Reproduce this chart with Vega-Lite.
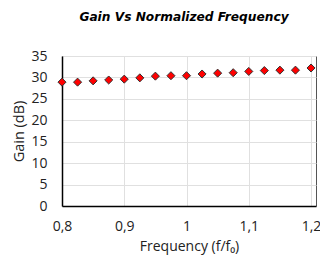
{
  "$schema": "https://vega.github.io/schema/vega-lite/v6.json",
  "width": 254,
  "height": 150,
  "autosize": {"type": "none"},
  "padding": {"left": 62, "top": 56, "right": 4, "bottom": 49},
  "background": "white",
  "title": {
    "text": "Gain Vs Normalized Frequency",
    "font": "DejaVu Sans",
    "fontSize": 12.2,
    "fontWeight": "bold",
    "fontStyle": "italic",
    "color": "#000000",
    "anchor": "middle",
    "offset": 26,
    "dx": -5
  },
  "data": {
    "values": [
      {"freq": 0.8, "gain": 28.9},
      {"freq": 0.825, "gain": 28.9},
      {"freq": 0.85, "gain": 29.2},
      {"freq": 0.875, "gain": 29.4},
      {"freq": 0.9, "gain": 29.6},
      {"freq": 0.925, "gain": 29.9},
      {"freq": 0.95, "gain": 30.3},
      {"freq": 0.975, "gain": 30.4},
      {"freq": 1.0, "gain": 30.4},
      {"freq": 1.025, "gain": 30.8},
      {"freq": 1.05, "gain": 31.0},
      {"freq": 1.075, "gain": 31.1},
      {"freq": 1.1, "gain": 31.4},
      {"freq": 1.125, "gain": 31.6},
      {"freq": 1.15, "gain": 31.7},
      {"freq": 1.175, "gain": 31.7},
      {"freq": 1.2, "gain": 32.2}
    ]
  },
  "mark": {
    "type": "point",
    "shape": "diamond",
    "filled": true,
    "fill": "#ff0000",
    "stroke": "#333333",
    "strokeWidth": 1,
    "size": 65,
    "opacity": 1,
    "clip": false
  },
  "encoding": {
    "x": {
      "field": "freq",
      "type": "quantitative",
      "scale": {"domain": [0.8, 1.208], "nice": false, "zero": false},
      "axis": {
        "title": "Frequency (f/f₀)",
        "values": [0.8, 0.9, 1.0, 1.1, 1.2],
        "labelExpr": "replace(format(datum.value, '~g'), '.', ',')",
        "grid": true,
        "gridColor": "#e0e0e0",
        "ticks": false,
        "domainColor": "#000000",
        "domainWidth": 1.5,
        "labelFont": "Open Sans",
        "labelFontSize": 14,
        "labelColor": "#222222",
        "labelPadding": 13,
        "labelFlush": false,
        "titleFont": "Open Sans",
        "titleFontSize": 14,
        "titleFontWeight": "normal",
        "titleColor": "#222222",
        "titlePadding": 6
      }
    },
    "y": {
      "field": "gain",
      "type": "quantitative",
      "scale": {"domain": [0, 35], "nice": false},
      "axis": {
        "title": "Gain (dB)",
        "values": [0, 5, 10, 15, 20, 25, 30, 35],
        "grid": true,
        "gridColor": "#e0e0e0",
        "ticks": false,
        "domainColor": "#000000",
        "domainWidth": 1.5,
        "labelFont": "Open Sans",
        "labelFontSize": 14,
        "labelColor": "#222222",
        "labelPadding": 15,
        "titleFont": "Open Sans",
        "titleFontSize": 14.5,
        "titleFontWeight": "normal",
        "titleColor": "#222222",
        "titlePadding": 4
      }
    }
  },
  "config": {
    "view": {"stroke": "#555555", "strokeWidth": 1}
  }
}
